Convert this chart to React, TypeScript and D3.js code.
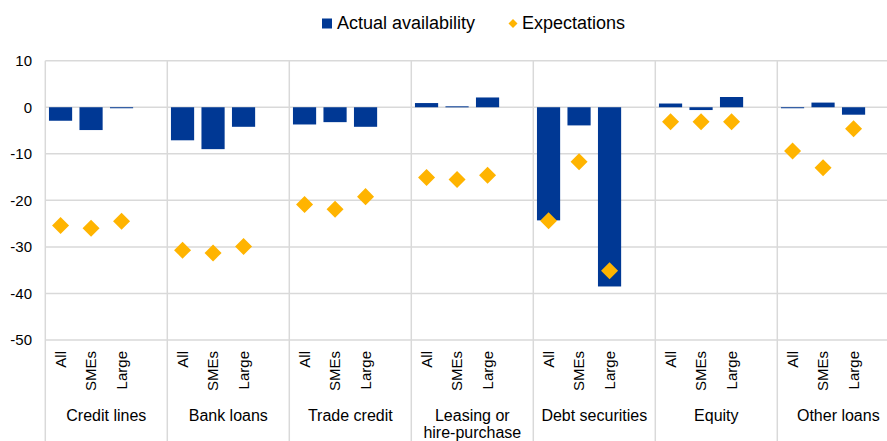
import { useEffect, useRef } from 'react';
import * as d3 from 'd3';

// instrument groups and firm sizes
const groups = ['Credit lines', 'Bank loans', 'Trade credit', 'Leasing or\nhire-purchase', 'Debt securities', 'Equity', 'Other loans'];
const sizes = ['All', 'SMEs', 'Large'];

// net percentages per group: All, SMEs, Large
const actual = [
  -2.9, -4.9, -0.2,
  -7.1, -9.0, -4.2,
  -3.7, -3.2, -4.2,
  0.9, 0.2, 2.1,
  -24.3, -3.9, -38.5,
  0.8, -0.6, 2.2,
  -0.1, 1.0, -1.6,
];
const expectations = [
  -25.4, -26.0, -24.5,
  -30.7, -31.3, -29.9,
  -20.9, -21.9, -19.2,
  -15.1, -15.5, -14.6,
  -24.4, -11.7, -35.1,
  -3.1, -3.1, -3.1,
  -9.4, -13.0, -4.6,
];
const yTicks = [10, 0, -10, -20, -30, -40, -50];

const W = 887;
const H = 441;
const BLUE = '#003894';
const YELLOW = '#FFB400';
const GRID = '#d9d9d9';

export default function App() {
  const svgRef = useRef<SVGSVGElement | null>(null);

  useEffect(() => {
    const svg = d3.select(svgRef.current).html('');
    svg.attr('width', W).attr('height', H)
      .style('font-family', '"Liberation Sans", Arial, sans-serif');

    const left = 45.3;
    const slot = 30.5;
    const nSlots = groups.length * 4; // 3 sizes + 1 blank per group

    const x = d3.scaleBand<number>()
      .domain(d3.range(nSlots))
      .range([left, left + slot * nSlots])
      .padding(0);
    const y = d3.scaleLinear().domain([-50, 10]).range([340, 60.7]);

    const slotOf = (i: number) => Math.floor(i / 3) * 4 + (i % 3);

    // horizontal grid
    svg.append('g').selectAll('line')
      .data(yTicks)
      .enter().append('line')
      .attr('x1', left).attr('x2', W)
      .attr('y1', d => y(d)).attr('y2', d => y(d))
      .attr('stroke', GRID).attr('stroke-width', 1.5);

    // vertical separators
    svg.append('g').selectAll('line')
      .data(d3.range(groups.length + 1))
      .enter().append('line')
      .attr('x1', g => x(g * 4) ?? left + slot * nSlots)
      .attr('x2', g => x(g * 4) ?? left + slot * nSlots)
      .attr('y1', y(10)).attr('y2', H)
      .attr('stroke', GRID).attr('stroke-width', 1.5);

    // y tick labels
    svg.append('g').selectAll('text')
      .data(yTicks)
      .enter().append('text')
      .attr('x', 32)
      .attr('y', d => y(d))
      .attr('dy', '0.35em')
      .attr('text-anchor', 'end')
      .attr('font-size', 15)
      .attr('fill', '#000')
      .text(d => d);

    const bw = x.bandwidth() * 0.76;

    // bars
    svg.append('g').selectAll('rect')
      .data(actual)
      .enter().append('rect')
      .attr('x', (d, i) => (x(slotOf(i)) as number) + (x.bandwidth() - bw) / 2)
      .attr('y', d => y(Math.max(0, d)))
      .attr('width', bw)
      .attr('height', d => Math.max(1, Math.abs(y(d) - y(0))))
      .attr('fill', BLUE);

    // expectation diamonds
    const diamond = d3.symbol().type(d3.symbolSquare).size(145);
    svg.append('g').selectAll('path')
      .data(expectations)
      .enter().append('path')
      .attr('d', diamond())
      .attr('transform', (d, i) => `translate(${(x(slotOf(i)) as number) + x.bandwidth() / 2},${y(d)}) rotate(45)`)
      .attr('fill', YELLOW);

    // size labels (rotated)
    svg.append('g').selectAll('text')
      .data(actual.map((_, i) => sizes[i % 3]))
      .enter().append('text')
      .attr('transform', (d, i) => `translate(${(x(slotOf(i)) as number) + x.bandwidth() / 2 + 5},351) rotate(-90)`)
      .attr('text-anchor', 'end')
      .attr('font-size', 15)
      .attr('fill', '#000')
      .text(d => d);

    // group labels
    const gl = svg.append('g').selectAll('text')
      .data(groups)
      .enter().append('text')
      .attr('x', (d, g) => (x(g * 4) as number) + slot * 2)
      .attr('y', 421)
      .attr('text-anchor', 'middle')
      .attr('font-size', 16)
      .attr('fill', '#000');
    gl.each(function (d) {
      const t = d3.select(this);
      d.split('\n').forEach((line, k) => {
        t.append('tspan')
          .attr('x', t.attr('x'))
          .attr('dy', k === 0 ? 0 : 17)
          .text(line);
      });
    });

    // legend
    const lg = svg.append('g');
    lg.append('rect').attr('x', 322).attr('y', 18.5).attr('width', 10).attr('height', 10).attr('fill', BLUE);
    lg.append('text').attr('x', 337).attr('y', 29).attr('font-size', 18).text('Actual availability');
    lg.append('path')
      .attr('d', d3.symbol().type(d3.symbolSquare).size(40)())
      .attr('transform', 'translate(513,23.5) rotate(45)')
      .attr('fill', YELLOW);
    lg.append('text').attr('x', 522).attr('y', 29).attr('font-size', 18).text('Expectations');
  }, []);

  return (
    <div style={{ position: 'absolute', left: 0, top: 0 }}>
      <svg ref={svgRef}></svg>
    </div>
  );
}
